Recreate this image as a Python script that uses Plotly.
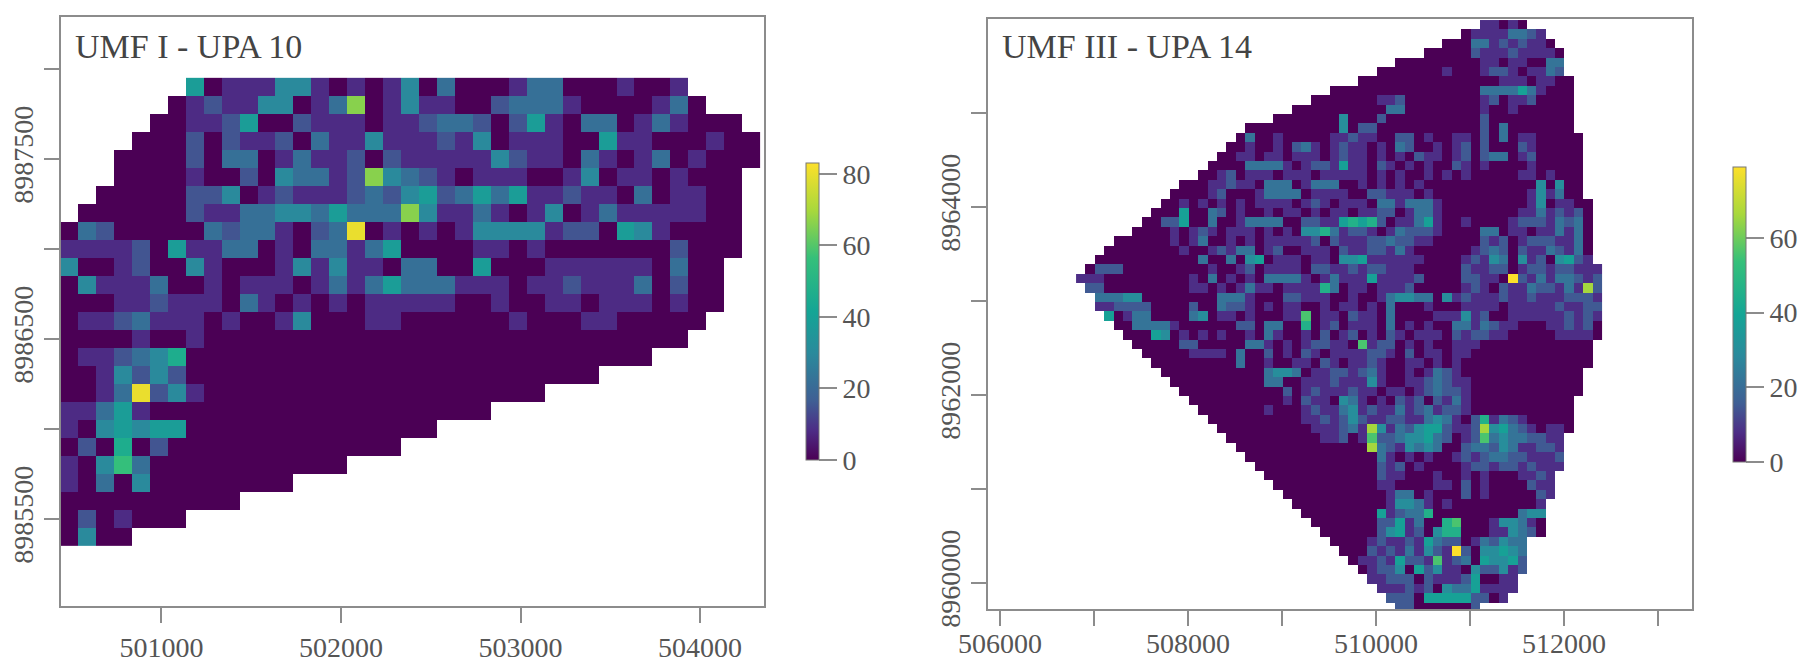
import plotly.graph_objects as go

W, H = 1806, 666

# digit code per cell -> stem count
LEVELS = [0, 8, 15, 22, 30, 38, 46, 56, 66, 80]

P1_X0, P1_Y0, CELL = 500436, 8987951, 100
P1_START = [7,6,5,4,3,3,2,1,0,0,0,0,0,0,0,0,0,0,0,0,0,0,0,0,0,0]
P1_END = [35,36,38,39,39,38,38,38,38,38,37,37,37,36,35,33,30,27,24,21,19,16,13,10,7,4]
P1_ROWS = [
"0000000501 1144101014 0300013300 010010000",
"0000000121 1440138014 1100233310 000130000",
"0000000112 5002111011 2332025103 301310000",
"0000000202 1120311411 1214011100 511000100",
"0000000203 3013112021 1111421103 101301000",
"0000000100 2043312843 2101110014 011010000",
"0000000224 0121112324 5235351121 103011000",
"0000000211 3344353338 4113101401 311111000",
"0320000032 3310239010 1014444122 054100000",
"1111205113 3010331350 0001101000 000020000",
"4001200410 0014141103 3005000111 111030000",
"0411130010 1110131353 3311101121 1130200",
"0001121110 3101010111 1100100110 1110100",
"0112311101 0014000110 0000010001 100000",
"0000100100 0000000000 0000000000",
"0112346000",
"0014242000",
"0013924100",
"1135100000",
"1045455000",
"0206020000",
"1047300000",
"1030400000",
"0000000000",
"0201000",
"0400",
]

P2_X0, P2_Y0 = 506809, 8965989
P2_START = [43,41,39,37,34,32,30,27,25,23,21,18,17,16,15,14,13,11,10,9,8,7,6,4,3,2,1,0,1,2,2,3,4,5,6,7,8,9,10,11,12,13,14,15,16,17,18,19,20,21,22,23,24,25,26,27,28,29,30,31,32,33,34]
P2_END = [48,50,51,52,52,52,53,53,53,53,53,53,54,54,54,54,54,54,54,55,55,55,55,55,55,55,56,56,56,56,56,56,56,56,55,55,55,54,54,54,53,53,53,53,52,52,52,52,51,51,51,50,50,50,50,48,48,48,48,47,47,46,43]
P2_ROWS = [
"0000000000 0000000000 0000000000 0000000000 0001101000 000000",
"0000000000 0000000000 0000000000 0000000000 0011113321 000000",
"0000000000 0000000000 0000000000 0000000000 0033121211 000000",
"0000000000 0000000000 0000000000 0000000000 0021112111 100000",
"0000000000 0000000000 0000000000 0000000000 0001101100 330000",
"0000000000 0000000000 0000000000 0000000001 0001221011 320000",
"0000000000 0000000000 0000000000 0000000000 0000011101 100000",
"0000000000 0000000000 0000000000 0000000000 0003333531 000000",
"0000000000 0000000000 0000000000 0011200000 0001201120 000000",
"0000000000 0000000000 0000000000 0003300000 0001001000 000000",
"0000000000 0000000000 0000000040 0020000000 0002000000 000000",
"0000000000 0000000000 0000000040 2200000000 0002030000 000000",
"0000000000 0000000030 0100000112 1100220100 1102030110 000000",
"0000000000 0000000010 0102310121 1010320010 1202000210 000000",
"0000000000 0000000110 1101110121 1010102110 1202330120 000000",
"0000000000 0000000033 3310122151 1021010100 2101000010 000000",
"0000000000 0000012011 1011101111 1010100101 0100000110 100000",
"0000000000 0000112110 3330133300 1010101000 0000000004 040000",
"0000000000 0000120001 3333011110 0221110100 0000000014 130000",
"0000000000 0101010101 1110121011 1033133310 0000000014 011000",
"0000000000 0500320100 1011010110 1122013310 0000000113 121200",
"0000000002 2500300133 3300221156 5620113510 0100001222 132300",
"0000000000 1012101110 1010446312 2101322210 0003301101 131300",
"0000000000 1013001010 1111120211 1223221100 0002120122 211300",
"0000000000 0100121330 1200111021 1221310000 0012320211 321300",
"0000000000 0003003045 0111011044 5111111000 0121430412 045211",
"0022200000 0000100120 1111022112 1221110000 0211220122 122111",
"1110000000 0010301010 3333101311 1511112000 0221109213 133212",
"0220000000 0011010131 1011116301 1011120000 0121021132 213182",
"0033344000 0000033310 0022111001 0013443304 1211121121 112221",
"0011222200 0020032210 1011001011 0103000100 0111101111 121122",
"0005013300 0034011010 0011701102 1103000011 1412001111 112121",
"0000003333 1000000220 3300601201 1103010100 3313211000 112120",
"0000000054 0101010010 3100102012 0102101110 2122110000 011110",
"0000000000 0220000033 1010122110 7122010100 1110000000 000000",
"0000000000 0011110300 2010210111 1221020110 1100000000 000000",
"0000000000 0000000300 1001102101 1210011010 1000000000 000000",
"0000000000 0000000000 3443011221 2310010132 1000000000 000000",
"0000000000 0000000000 3300111211 1410011232 1100000000 000000",
"0000000000 0000000000 0020121112 1101101232 2100000000 000000",
"0000000000 0000000000 0010211043 1010212021 3100000000 000000",
"0000000000 0000000000 1000121134 1211312312 2100000000 000000",
"0000000000 0000000000 0000112124 2112211343 1026132100 000000",
"0000000000 0000000000 0000011123 1841324552 1128453210 110000",
"0000000000 0000000000 0000001120 1722344532 0127343322 112110",
"0000000000 0000000000 0000000000 0832143430 0233243112 211110",
"0000000000 0000000000 0000000000 0031010100 1212332211 121221",
"0000000000 0000000000 0000000000 0021201000 0122122121 110000",
"0000000000 0000000000 0000000000 0021100010 0101000112 111000",
"0000000000 0000000000 0000000000 0011000011 0201000021 100000",
"0000000000 0000000000 0000000000 0001330100 0201000002 100000",
"0000000000 0000000000 0000000000 0001443101 0000000001 100000",
"0000000000 0000000000 0000000000 0051233600 0000000344 000000",
"0000000000 0000000000 0000000000 0022513006 7000144310 000000",
"0000000000 0000000000 0000000000 0024512046 6000114320 000000",
"0000000000 0000000000 0000000000 0121121532 2013243311 000000",
"0000000000 0000000000 0000000000 0212131421 9204454322 000000",
"0000000000 0000000000 0000000000 1121522171 2305445210 000000",
"0000000000 0000000000 0000000000 0122405241 1042241200 000000",
"0000000000 0000000000 0000000000 0112220211 1250011100 000000",
"0000000000 0000000000 0000000000 0011121204 3351111110 000000",
"0000000000 0000000000 0000000000 0012220555 5522011000 000000",
"0000000000 0000000000 0000000000 0000220000 0021000000 000000",
]

P1_XTICKS = [501000, 502000, 503000, 504000]
P1_XLABELS = ["501000", "502000", "503000", "504000"]
P1_YTICKS = [8985500, 8986000, 8986500, 8987000, 8987500, 8988000]
P1_YLABELS = ["8985500", "", "8986500", "", "8987500", ""]
P2_XTICKS = [506000, 507000, 508000, 509000, 510000, 511000, 512000, 513000]
P2_XLABELS = ["506000", "", "508000", "", "510000", "", "512000", ""]
P2_YTICKS = [8960000, 8961000, 8962000, 8963000, 8964000, 8965000]
P2_YLABELS = ["8960000", "", "8962000", "", "8964000", ""]
P1_BAR_TICKS = [0, 20, 40, 60, 80]
P2_BAR_TICKS = [0, 20, 40, 60]
TITLES = ["UMF I - UPA 10", "UMF III - UPA 14"]

COLORS = [[0, "#4B0055"], [0.1, "#4d2d86"], [0.2, "#3f5f94"], [0.36, "#2a8a9c"],
          [0.5, "#14a595"], [0.68, "#35c07a"], [0.84, "#a8d83c"], [1, "#FDE02A"]]
FONT = "Liberation Serif"
GREY = "#8c8c8c"
TEXT = "#555555"


def grid(rows, start, end, ncol):
    out = []
    for row, a, b in zip(rows, start, end):
        cells = row.replace(" ", "").ljust(ncol, "0")
        out.append([LEVELS[int(ch)] if a <= i < b else None for i, ch in enumerate(cells[:ncol])])
    return out


def colorbar(left, top, bottom, ticks):
    return dict(
        x=left / W, xanchor="left", y=1 - top / H, yanchor="top",
        len=(bottom - top) / H, lenmode="fraction", thickness=13, thicknessmode="pixels",
        xpad=0, ypad=0, outlinecolor="#777777", outlinewidth=1,
        tickmode="array", tickvals=ticks, ticks="outside", ticklen=18, tickcolor=GREY, tickwidth=1.5,
        tickfont=dict(family=FONT, size=28, color=TEXT),
    )


fig = go.Figure()
fig.add_trace(go.Heatmap(
    z=grid(P1_ROWS, P1_START, P1_END, 39), x0=P1_X0 + CELL / 2, dx=CELL, y0=P1_Y0 - CELL / 2, dy=-CELL,
    zmin=0, zmax=83, colorscale=COLORS, xaxis="x", yaxis="y", hoverongaps=False,
    colorbar=colorbar(806, 163, 460, P1_BAR_TICKS),
))
fig.add_trace(go.Heatmap(
    z=grid(P2_ROWS, P2_START, P2_END, 56), x0=P2_X0 + CELL / 2, dx=CELL, y0=P2_Y0 - CELL / 2, dy=-CELL,
    zmin=0, zmax=79, colorscale=COLORS, xaxis="x2", yaxis="y2", hoverongaps=False,
    colorbar=colorbar(1733, 167, 462, P2_BAR_TICKS),
))


def axis(px_a, px_b, total, rng, vals, labels, anchor, vertical=False, standoff=0):
    dom = [1 - px_b / total, 1 - px_a / total] if vertical else [px_a / total, px_b / total]
    return dict(
        domain=dom, range=rng, anchor=anchor, automargin=False, tickmode="array", tickvals=vals, ticktext=labels,
        showgrid=False, zeroline=False, showline=True, mirror=True, linecolor=GREY, linewidth=2,
        ticks="outside", ticklen=15, tickcolor=GREY, tickwidth=1.5, ticklabelstandoff=standoff,
        tickfont=dict(family=FONT, size=28, color=TEXT), tickangle=-90 if vertical else 0,
    )


fig.update_layout(
    width=W, height=H, margin=dict(l=0, r=0, t=0, b=0, autoexpand=False), autosize=False,
    paper_bgcolor="white", plot_bgcolor="white", showlegend=False,
    xaxis=axis(61, 764, W, [500441, 504356], P1_XTICKS, P1_XLABELS, "y", standoff=0),
    yaxis=axis(17, 606, H, [8985017, 8988289], P1_YTICKS, P1_YLABELS, "x", True),
    xaxis2=axis(988, 1692, W, [505872, 513362], P2_XTICKS, P2_XLABELS, "y2", standoff=-7),
    yaxis2=axis(19, 609, H, [8959723, 8966000], P2_YTICKS, P2_YLABELS, "x2", True),
    annotations=[
        dict(text=TITLES[0], xref="paper", yref="paper", x=73 / W, y=1 - 46 / H, xanchor="left", yanchor="middle",
             showarrow=False, font=dict(family=FONT, size=34, color="#444444")),
        dict(text=TITLES[1], xref="paper", yref="paper", x=1000 / W, y=1 - 46 / H, xanchor="left", yanchor="middle",
             showarrow=False, font=dict(family=FONT, size=34, color="#444444")),
    ],
)
fig.write_html("out.html", config={"displayModeBar": False},
               post_script="document.body.style.margin='0';document.body.style.overflow='hidden';")
